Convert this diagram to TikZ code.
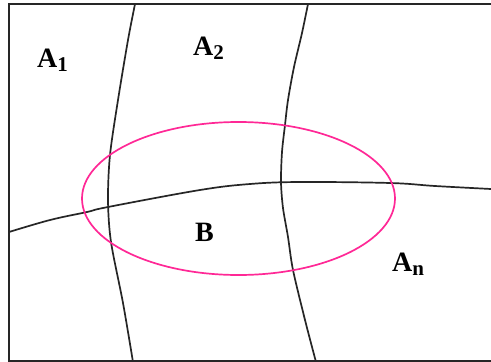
\documentclass[tikz,border=0pt]{standalone}
\usepackage{fontspec}
\setmainfont{Liberation Serif}
\definecolor{pinkline}{RGB}{255,40,150}
\tikzset{
  x=1pt, y=-1pt,
  frameline/.style={draw=black!85, line width=1.8pt},
  curveline/.style={draw=black!85, line width=1.7pt},
  setline/.style={draw=pinkline, line width=1.7pt},
  lbl/.style={anchor=base west, inner sep=0pt, font=\fontsize{28}{28}\selectfont\bfseries},
}
\newcommand{\subs}[1]{\raisebox{-4pt}{\fontsize{21}{21}\selectfont\bfseries #1}}
\begin{document}
\begin{tikzpicture}
\useasboundingbox (0,0) rectangle (491,362);
\fill[white] (0,0) rectangle (491,362);
% frame
\draw[frameline] (491,4) -- (9,4) -- (9,361) -- (491,361);
% partition curves
\draw[curveline] plot[smooth, tension=0.5] coordinates {(135,4) (128,40) (118,100) (110,155) (108,200) (111,242) (123,303) (133,362)};
\draw[curveline] plot[smooth, tension=0.5] coordinates {(308,4) (302,33) (294,67) (288,100) (285,125) (282,152) (281,182) (283,208) (288,237) (293,270) (305,320) (316,362)};
\draw[curveline] plot[smooth, tension=0.6] coordinates {(9,232) (50,220) (87,212) (108,207) (200,190) (250,184) (300,182) (390,183) (435,186) (491,189)};
% set B
\draw[setline] (238.5,198.5) ellipse [x radius=156.5, y radius=76.5];
% labels
\node[lbl] (a1) at (37,67) {A\subs{1}};
\node[lbl] (a2) at (193,55) {A\subs{2}};
\node[lbl] (b) at (195,241) {B};
\node[lbl] (an) at (392,271) {A\subs{n}};
\end{tikzpicture}
\end{document}
